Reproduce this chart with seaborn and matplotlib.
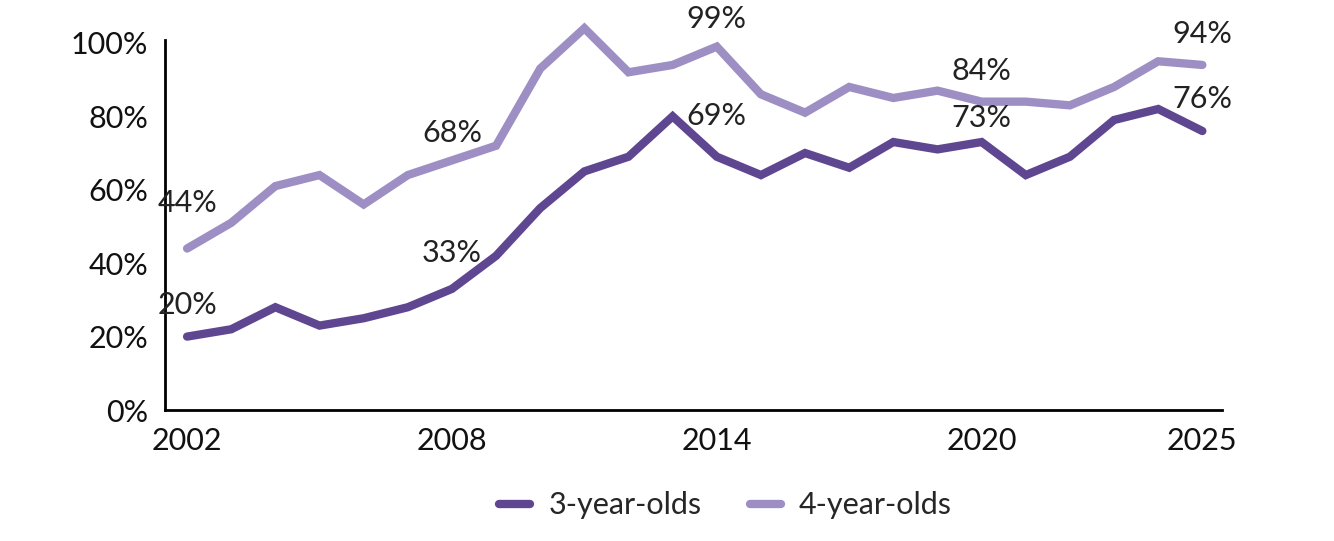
import numpy as np
import pandas as pd
import seaborn as sns
import matplotlib.pyplot as plt
from matplotlib.ticker import FixedLocator, MultipleLocator

years = list(range(2002, 2026))
three_year_olds = [20, 22, 28, 23, 25, 28, 33, 42, 55, 65, 69, 80,
                   69, 64, 70, 66, 73, 71, 73, 64, 69, 79, 82, 76]
four_year_olds = [44, 51, 61, 64, 56, 64, 68, 72, 93, 104, 92, 94,
                  99, 86, 81, 88, 85, 87, 84, 84, 83, 88, 95, 94]
label_years = [2002, 2008, 2014, 2020, 2025]
series_names = ["3-year-olds", "4-year-olds"]
colors = ["#5f4690", "#9d8fc4"]

df = pd.DataFrame({
    "Year": years * 2,
    "Value": three_year_olds + four_year_olds,
    "Group": [series_names[0]] * len(years) + [series_names[1]] * len(years),
})

sns.set_style("white")
plt.rcParams["font.family"] = ["Lato", "DejaVu Sans"]
FS = 22

fig = plt.figure(figsize=(13.34, 5.41), dpi=100)
ax = fig.add_axes([0.1237, 0.2421, 0.7925, 0.6840])

sns.lineplot(data=df, x="Year", y="Value", hue="Group", palette=colors,
             linewidth=6, ax=ax, legend=False)
for line in ax.lines:
    line.set_clip_on(False)
    line.set_solid_capstyle("round")
    line.set_solid_joinstyle("miter")

ax.set_xlim(2001.5, 2025.45)
ax.set_ylim(0, 100.8)
ax.xaxis.set_major_locator(FixedLocator(label_years))
ax.xaxis.set_minor_locator(FixedLocator(years))
ax.yaxis.set_major_locator(MultipleLocator(20))
ax.set_yticklabels([f"{int(v)}%" for v in ax.get_yticks()])
ax.set_xlabel("")
ax.set_ylabel("")

for s in ["top", "right"]:
    ax.spines[s].set_visible(False)
for s in ["left", "bottom"]:
    ax.spines[s].set_color("black")
    ax.spines[s].set_linewidth(2)

ax.tick_params(axis="x", which="both", direction="in", length=6, width=1.6,
               color="black", labelsize=FS, labelcolor="#111111", pad=12)
ax.tick_params(axis="y", length=0, labelsize=FS, labelcolor="#111111", pad=12)

# point labels
offsets3 = {2002: 13, 2008: 16, 2014: 19, 2020: 7, 2025: 13}
offsets4 = {2002: 23, 2008: 10, 2014: 10, 2020: 12, 2025: 12}
for yr in label_years:
    i = years.index(yr)
    ax.annotate(f"{three_year_olds[i]}%", (yr, three_year_olds[i]),
                xytext=(0, offsets3[yr]), textcoords="offset points",
                ha="center", va="bottom", fontsize=FS, color="#222222",
                annotation_clip=False)
    ax.annotate(f"{four_year_olds[i]}%", (yr, four_year_olds[i]),
                xytext=(0, offsets4[yr]), textcoords="offset points",
                ha="center", va="bottom", fontsize=FS, color="#222222",
                annotation_clip=False)

handles = [plt.Line2D([], [], color=c, linewidth=6, solid_capstyle="round")
           for c in colors]
fig.legend(handles, series_names, loc="center", bbox_to_anchor=(0.544, 0.066),
           ncol=2, frameon=False, fontsize=FS, handlelength=1.0,
           columnspacing=1.6, handletextpad=0.6)

fig.savefig("out.png", dpi=100)
